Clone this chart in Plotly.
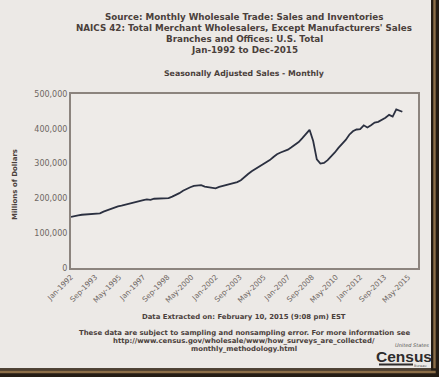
import plotly.graph_objects as go

# Quarterly sample months (Jan, Apr, Jul, Oct), plus Dec-2014
years = list(range(1992, 2015))
quarter_months = ["01", "04", "07", "10"]
sales_by_year = {
    1992: [147, 150, 151, 153],
    1993: [154, 153, 156, 155],
    1994: [157, 162, 166, 170],
    1995: [174, 177, 179, 182],
    1996: [185, 187, 189, 192],
    1997: [195, 197, 196, 199],
    1998: [200, 201, 202, 201],
    1999: [205, 209, 215, 222],
    2000: [228, 232, 236, 237],
    2001: [238, 234, 232, 230],
    2002: [229, 233, 236, 238],
    2003: [240, 243, 247, 252],
    2004: [262, 270, 278, 284],
    2005: [291, 296, 302, 310],
    2006: [319, 327, 332, 336],
    2007: [340, 347, 354, 362],
    2008: [373, 385, 397, 365],
    2009: [312, 300, 302, 310],
    2010: [320, 332, 345, 356],
    2011: [368, 383, 393, 398],
    2012: [399, 410, 404, 410],
    2013: [418, 420, 425, 432],
    2014: [440, 435, 456, 452],
}
last_date = "2014-12-01"
last_value = 449  # thousands of millions

tick_dates = ["1992-01-01", "1993-09-01", "1995-05-01", "1997-01-01", "1998-09-01",
              "2000-05-01", "2002-01-01", "2003-09-01", "2005-05-01", "2007-01-01",
              "2008-09-01", "2010-05-01", "2012-01-01", "2013-09-01", "2015-05-01"]
tick_labels = ["Jan-1992", "Sep-1993", "May-1995", "Jan-1997", "Sep-1998",
               "May-2000", "Jan-2002", "Sep-2003", "May-2005", "Jan-2007",
               "Sep-2008", "May-2010", "Jan-2012", "Sep-2013", "May-2015"]
y_ticks = [0, 100000, 200000, 300000, 400000, 500000]
y_labels = ["0", "100,000", "200,000", "300,000", "400,000", "500,000"]

dates, values = [], []
for y in years:
    for m, v in zip(quarter_months, sales_by_year[y]):
        dates.append(f"{y}-{m}-01")
        values.append(v * 1000)
dates.append(last_date)
values.append(last_value * 1000)

TXT = "#4a403b"
GRAY = "#6e6662"
FONT = "DejaVu Sans"

fig = go.Figure()
fig.add_trace(go.Scatter(x=dates, y=values, mode="lines",
                         line=dict(color="#2b3040", width=1.8), hoverinfo="skip"))

fig.update_layout(
    width=439, height=377,
    margin=dict(l=71, r=21, t=94, b=109),
    paper_bgcolor="#ece9e6", plot_bgcolor="#eeebe8",
    showlegend=False,
    font=dict(family=FONT, color=TXT),
    xaxis=dict(type="date", range=["1992-01-01", "2016-01-01"], automargin=False,
               tickvals=tick_dates, ticktext=tick_labels, tickangle=-45,
               tickfont=dict(size=7.3, color=GRAY, family=FONT),
               showgrid=False, zeroline=False, showline=True, mirror=True,
               linecolor="#8c847e", linewidth=2, ticks=""),
    yaxis=dict(range=[0, 500000], tickvals=y_ticks, ticktext=y_labels, automargin=False,
               tickfont=dict(size=8, color=GRAY, family=FONT),
               showgrid=False, zeroline=False, showline=True, mirror=True,
               linecolor="#8c847e", linewidth=2, ticks=""),
)

def ypix(py):
    return (268 - py) / 174

def xpix(px):
    return (px - 71) / 347

title_lines = ["Source: Monthly Wholesale Trade: Sales and Inventories",
               "NAICS 42: Total Merchant Wholesalers, Except Manufacturers' Sales",
               "Branches and Offices: U.S. Total",
               "Jan-1992 to Dec-2015"]
for i, t in enumerate(title_lines):
    fig.add_annotation(text=f"<b>{t}</b>", xref="paper", yref="paper", x=xpix(244),
                       y=ypix(17 + 11 * i), showarrow=False,
                       font=dict(size=8.75, color=TXT), xanchor="center", yanchor="middle")
fig.add_annotation(text="<b>Seasonally Adjusted Sales - Monthly</b>", xref="paper", yref="paper",
                   x=xpix(244), y=ypix(74), showarrow=False,
                   font=dict(size=7.8, color=TXT), xanchor="center", yanchor="middle")

fig.add_annotation(text="<b>Millions of Dollars</b>", xref="paper", yref="paper",
                   x=xpix(15), y=ypix(185), textangle=-90, showarrow=False,
                   font=dict(size=7, color=TXT), xanchor="center", yanchor="middle")

fig.add_annotation(text="<b>Data Extracted on: February 10, 2015 (9:08 pm) EST</b>", xref="paper", yref="paper",
                   x=xpix(244), y=ypix(317), showarrow=False, font=dict(size=6.9, color=TXT),
                   xanchor="center", yanchor="middle")
foot = ["These data are subject to sampling and nonsampling error. For more information see",
        "http://www.census.gov/wholesale/www/how_surveys_are_collected/",
        "monthly_methodology.html"]
for i, t in enumerate(foot):
    fig.add_annotation(text=f"<b>{t}</b>", xref="paper", yref="paper",
                       x=xpix(244), y=ypix(333 + 8 * i), showarrow=False,
                       font=dict(size=6.9, color=TXT), xanchor="center", yanchor="middle")

# Census logo
fig.add_annotation(text="<b>Census</b>", xref="paper", yref="paper", x=xpix(404), y=ypix(356),
                   showarrow=False, font=dict(size=15.5, color="#2e2c2c", family="Liberation Sans Narrow, Liberation Sans"),
                   xanchor="center", yanchor="middle")
fig.add_annotation(text="<i>United States</i>", xref="paper", yref="paper", x=xpix(412), y=ypix(345),
                   showarrow=False, font=dict(size=5, color="#555"), xanchor="center", yanchor="middle")
fig.add_shape(type="rect", xref="paper", yref="paper", x0=xpix(379), x1=xpix(413),
              y0=ypix(365.5), y1=ypix(363.5), fillcolor="#2e2c2c", line=dict(width=0))
fig.add_annotation(text="Bureau", xref="paper", yref="paper", x=xpix(420), y=ypix(365.8),
                   showarrow=False, font=dict(size=3.5, color="#555"), xanchor="center", yanchor="middle")

# photo frame (right and bottom)
FR = "#241c14"
MID = "#4e4032"
TAN = "#8c6e48"
fig.add_shape(type="rect", xref="paper", yref="paper", x0=xpix(431), x1=xpix(439),
              y0=ypix(377), y1=ypix(0), fillcolor=FR, line=dict(width=0), layer="above")
fig.add_shape(type="rect", xref="paper", yref="paper", x0=xpix(433.3), x1=xpix(435.7),
              y0=ypix(371), y1=ypix(0), fillcolor=TAN, line=dict(width=0), layer="above")
fig.add_shape(type="rect", xref="paper", yref="paper", x0=xpix(0), x1=xpix(439),
              y0=ypix(377), y1=ypix(368.3), fillcolor=FR, line=dict(width=0), layer="above")
fig.add_shape(type="rect", xref="paper", yref="paper", x0=xpix(0), x1=xpix(431),
              y0=ypix(370.7), y1=ypix(368.3), fillcolor=MID, line=dict(width=0), layer="above")
fig.add_shape(type="rect", xref="paper", yref="paper", x0=xpix(0), x1=xpix(435.7),
              y0=ypix(373.3), y1=ypix(370.7), fillcolor=TAN, line=dict(width=0), layer="above")

fig.write_html("out.html", config={"displayModeBar": False},
               post_script="document.body.style.margin='0';document.body.style.overflow='hidden';")
